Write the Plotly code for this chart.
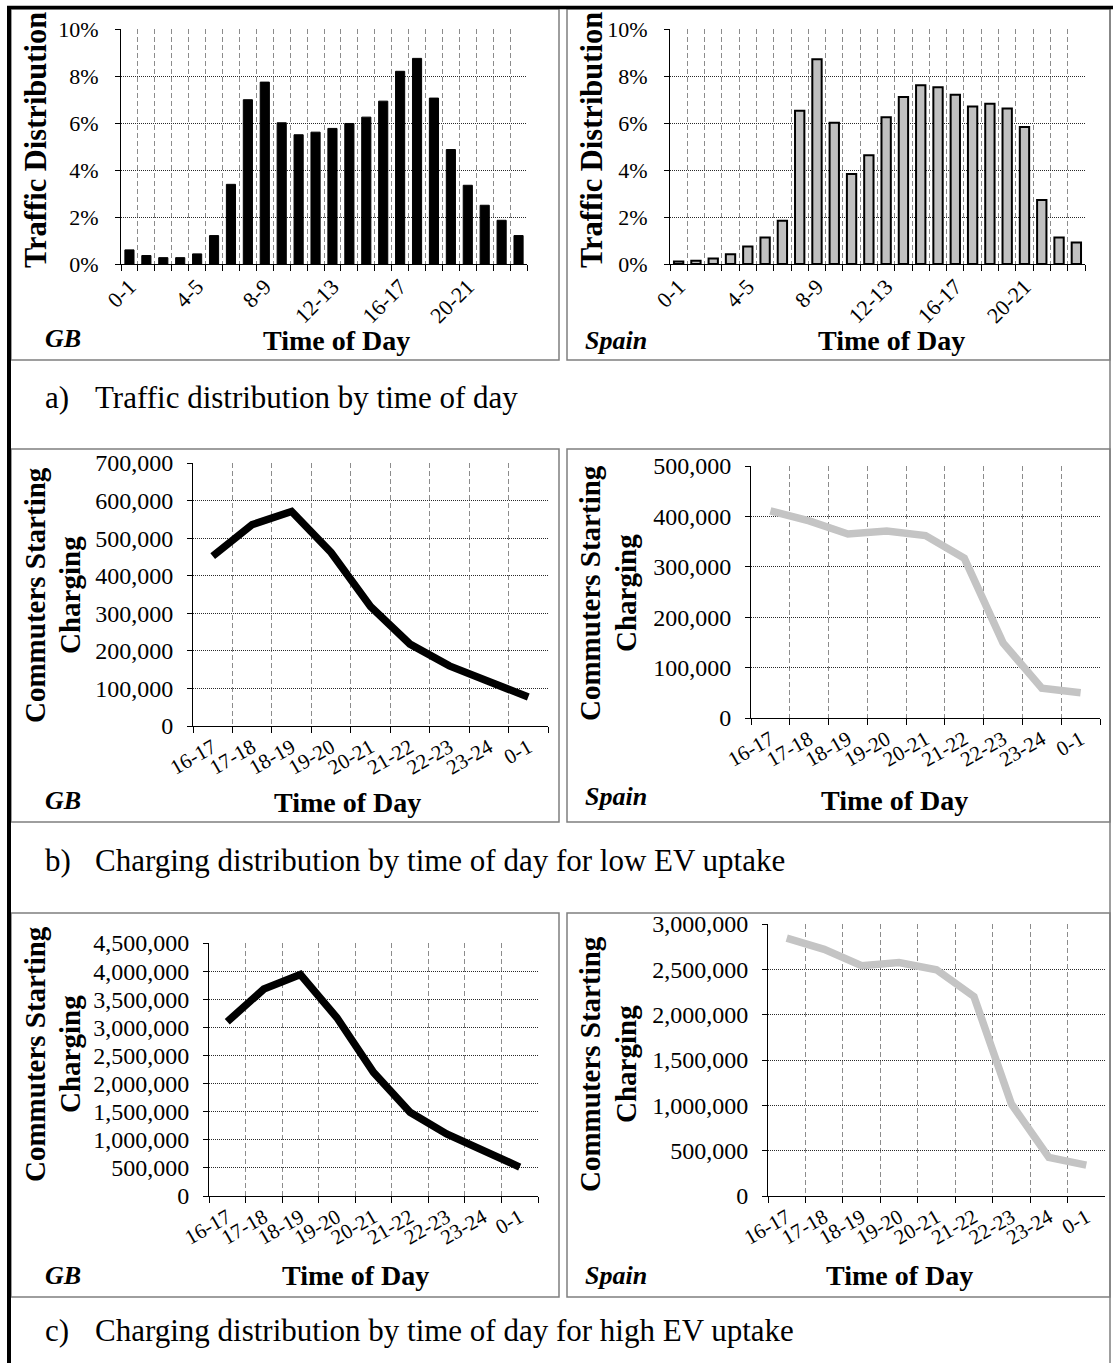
import plotly.graph_objects as go

W, H = 1113, 1363
SERIF = "Liberation Serif, Times New Roman, serif"

# ---- data -------------------------------------------------------------
hours = ["0-1", "1-2", "2-3", "3-4", "4-5", "5-6", "6-7", "7-8", "8-9", "9-10",
         "10-11", "11-12", "12-13", "13-14", "14-15", "15-16", "16-17", "17-18",
         "18-19", "19-20", "20-21", "21-22", "22-23", "23-24"]
hour_labels = ["0-1", "", "", "", "4-5", "", "", "", "8-9", "", "", "",
               "12-13", "", "", "", "16-17", "", "", "", "20-21", "", "", ""]
evening = ["16-17", "17-18", "18-19", "19-20", "20-21", "21-22", "22-23", "23-24", "0-1"]

# traffic share per hour (%)
gb_traffic = [0.60, 0.36, 0.27, 0.27, 0.43, 1.21, 3.39, 6.99, 7.74, 6.01, 5.50, 5.61,
              5.77, 5.98, 6.25, 6.93, 8.20, 8.75, 7.06, 4.87, 3.35, 2.50, 1.86, 1.21]
es_traffic = [0.11, 0.14, 0.23, 0.42, 0.74, 1.13, 1.84, 6.52, 8.71, 6.01, 3.83, 4.63,
              6.24, 7.11, 7.61, 7.52, 7.20, 6.70, 6.82, 6.62, 5.83, 2.72, 1.13, 0.91]

# commuters starting to charge, low EV uptake
gb_low = [452000, 536000, 571000, 462000, 318000, 218000, 160000, 121000, 77000]
es_low = [411000, 391000, 365000, 371000, 362000, 317000, 149000, 59000, 50000]

# commuters starting to charge, high EV uptake
gb_high = [3100000, 3680000, 3940000, 3170000, 2200000, 1490000, 1105000, 800000, 515000]
es_high = [2845000, 2720000, 2540000, 2575000, 2495000, 2200000, 1015000, 425000, 340000]

captions = ["Traffic distribution by time of day",
            "Charging distribution by time of day for low EV uptake",
            "Charging distribution by time of day for high EV uptake"]
caption_keys = ["a)", "b)", "c)"]


# ---- helpers ------------------------------------------------------------
def fx(x):
    return x / W


def fy(y):
    return 1 - y / H


fig = go.Figure()
shapes = []
annotations = []


def text(x, y, s, size, bold=False, italic=False, angle=0, xanchor="center"):
    annotations.append(dict(
        x=fx(x), y=fy(y), xref="paper", yref="paper", text=s, showarrow=False,
        textangle=angle, xanchor=xanchor, yanchor="middle",
        font=dict(family=SERIF, size=size, color="black",
                  weight="bold" if bold else "normal",
                  style="italic" if italic else "normal")))


def box(x0, y0, x1, y1, color="#7f7f7f", width=1.5):
    shapes.append(dict(type="rect", xref="paper", yref="paper",
                       x0=fx(x0), x1=fx(x1), y0=fy(y1), y1=fy(y0),
                       line=dict(color=color, width=width), fillcolor="rgba(0,0,0,0)",
                       layer="below"))


def line(x0, y0, x1, y1, color, width):
    shapes.append(dict(type="line", xref="paper", yref="paper",
                       x0=fx(x0), x1=fx(x1), y0=fy(y0), y1=fy(y1),
                       line=dict(color=color, width=width)))


def setup_axes(i, plot, cats, ticktext, yrange, dtick, yfmt, ysuffix,
               xfont, xangle, yfont, ystand):
    x0, y0, x1, y1 = plot
    xa = "xaxis" if i == 1 else f"xaxis{i}"
    ya = "yaxis" if i == 1 else f"yaxis{i}"
    fig.layout[xa] = dict(
        domain=[fx(x0), fx(x1)], anchor=f"y{i}", type="category",
        categoryorder="array", categoryarray=cats, automargin=False,
        range=[-0.5, len(cats) - 0.5], tickson="boundaries",
        tickmode="array", tickvals=cats, ticktext=ticktext, tickangle=xangle,
        showgrid=True, gridcolor="#8c8c8c", gridwidth=1, griddash="5px,3px",
        showline=True, linecolor="black", linewidth=1,
        ticks="outside", ticklen=6, tickcolor="black", tickwidth=1,
        tickfont=dict(family=SERIF, size=xfont, color="black"),
        zeroline=False, fixedrange=True)
    fig.layout[ya] = dict(
        domain=[fy(y1), fy(y0)], anchor=f"x{i}", range=yrange, automargin=False,
        tickmode="linear", tick0=0, dtick=dtick, tickformat=yfmt,
        ticksuffix=ysuffix, showgrid=True, gridcolor="#2a2a2a", gridwidth=1,
        griddash="1px,1px", showline=True, linecolor="black", linewidth=1,
        ticks="outside", ticklen=5, tickcolor="black", tickwidth=1,
        ticklabelstandoff=ystand,
        tickfont=dict(family=SERIF, size=yfont, color="black"),
        zeroline=False, fixedrange=True)


# ---- panel geometry (pixels) -----------------------------------------------
plots = {
    1: (121, 29, 527, 264),
    2: (670, 29, 1085, 264),
    3: (193, 463, 548, 726),
    4: (751, 466, 1100, 718),
    5: (209, 943, 538, 1196),
    6: (768, 924, 1105, 1196),
}
rows_y = [(9, 360), (449, 822), (913, 1297)]

# ---- row a : traffic bars -----------------------------------------------------
fig.add_trace(go.Bar(x=hours, y=gb_traffic, xaxis="x", yaxis="y",
                     marker=dict(color="black", line=dict(color="black", width=1))))
fig.add_trace(go.Bar(x=hours, y=es_traffic, xaxis="x2", yaxis="y2",
                     marker=dict(color="#c0c0c0", line=dict(color="black", width=2))))
for i in (1, 2):
    setup_axes(i, plots[i], hours, hour_labels, [0, 10], 2, "d", "%",
               22, -45, 22, 12)

# ---- rows b and c : charging lines -------------------------------------------------
series = {3: (gb_low, "black"), 4: (es_low, "#c4c4c4"),
          5: (gb_high, "black"), 6: (es_high, "#c4c4c4")}
for i, (vals, col) in series.items():
    fig.add_trace(go.Scatter(x=evening, y=vals, mode="lines",
                             xaxis=f"x{i}", yaxis=f"y{i}",
                             line=dict(color=col, width=7.5)))
setup_axes(3, plots[3], evening, evening, [0, 700000], 100000, ",d", "", 21, -30, 24, 9)
setup_axes(4, plots[4], evening, evening, [0, 500000], 100000, ",d", "", 21, -30, 24, 9)
setup_axes(5, plots[5], evening, evening, [0, 4500000], 500000, ",d", "", 21, -30, 24, 9)
setup_axes(6, plots[6], evening, evening, [0, 3000000], 500000, ",d", "", 21, -30, 24, 9)

# ---- frames -------------------------------------------------------------------
for (ty, by) in rows_y:
    box(11, ty, 559, by)
    box(567, ty, 1110, by)
line(1110, 9, 1110, H, "#7f7f7f", 1.5)
line(9, 6, 9, H, "black", 4)
line(7, 7.5, W, 7.5, "black", 3.5)

# ---- texts ----------------------------------------------------------------------
text(36, 140, "Traffic Distribution", 30.5, bold=True, angle=-90)
text(592, 140, "Traffic Distribution", 30.5, bold=True, angle=-90)
for (xa, xb, yc) in [(35, 70, 595), (590, 626, 593), (35, 70, 1054), (590, 626, 1064)]:
    text(xa, yc, "Commuters Starting", 29, bold=True, angle=-90)
    text(xb, yc, "Charging", 29, bold=True, angle=-90)

for (x, y, s) in [(43, 339, "GB"), (583, 340, "Spain"), (43, 800, "GB"),
                  (583, 796, "Spain"), (43, 1275, "GB"), (583, 1275, "Spain")]:
    text(x, y, s, 26, bold=True, italic=True, xanchor="left")

for (x, y) in [(336, 340), (891, 340), (347, 802), (894, 800), (355, 1275), (899, 1275)]:
    text(x, y, "Time of Day", 28, bold=True)

for key, cap, y in zip(caption_keys, captions, [397, 860, 1330]):
    text(43, y, key, 31, xanchor="left")
    text(93, y, cap, 31, xanchor="left")

fig.update_layout(
    width=W, height=H, margin=dict(l=0, r=0, t=0, b=0, pad=0, autoexpand=False),
    paper_bgcolor="white", plot_bgcolor="white",
    showlegend=False, bargap=0.46,
    shapes=shapes, annotations=annotations,
)

fig.write_html("out.html", config={"displayModeBar": False})
